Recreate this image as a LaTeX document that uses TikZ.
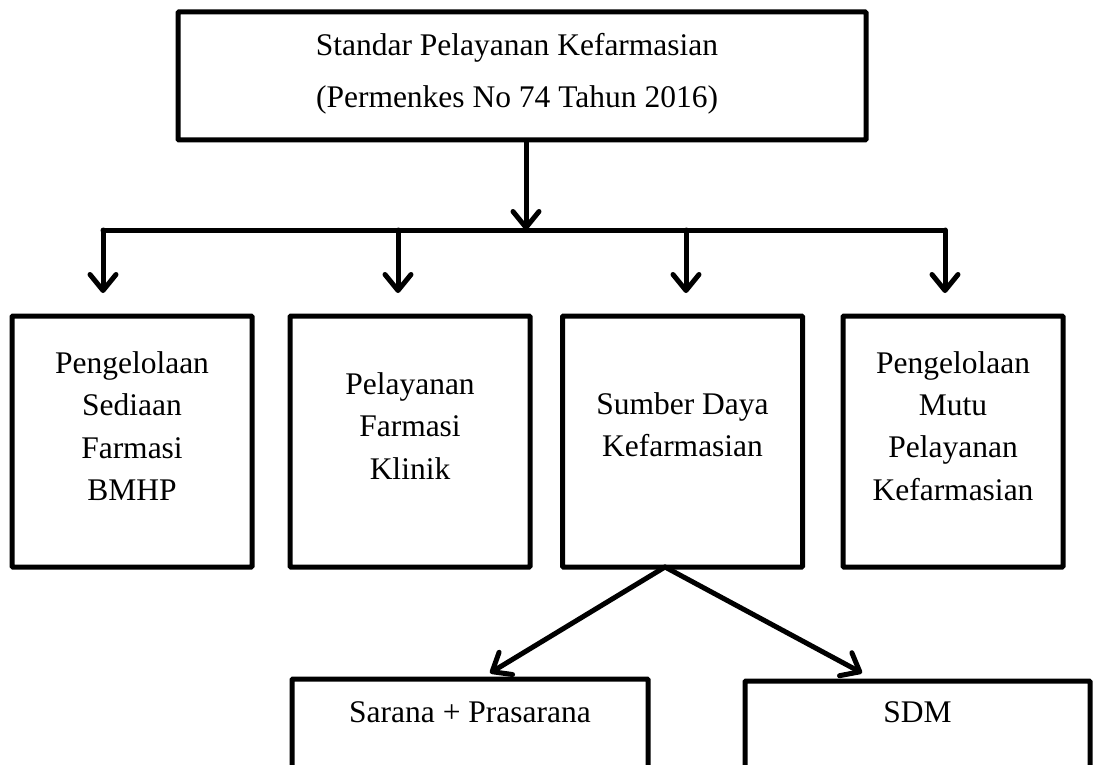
\documentclass[tikz,border=0pt]{standalone}
\usepackage{fontspec}
\setmainfont{Liberation Serif}
\usetikzlibrary{arrows.meta}
\begin{document}
\begin{tikzpicture}[x=1pt,y=-1pt,
  box/.style={draw, line width=5pt, rounded corners=1pt, inner sep=0pt},
  lbl/.style={align=center, inner sep=0pt, font=\fontsize{31.5}{42.3}\selectfont},
  conn/.style={line width=5pt, line cap=round, line join=round},
  arr/.style={conn, -{Straight Barb[length=16pt,width=26pt,line cap=round,line join=round]}}]
\useasboundingbox (0,0) rectangle (1103,765);
% boxes
\node[box, minimum width=688pt, minimum height=128pt] (top) at (522,76) {};
\node[lbl, font=\fontsize{31.5}{52}\selectfont] (toptext) at (517,74) {Standar Pelayanan Kefarmasian\\(Permenkes No 74 Tahun 2016)};
\node[box, minimum width=240pt, minimum height=251pt] (b1) at (132,441.5) {};
\node[box, minimum width=240pt, minimum height=251pt] (b2) at (410,441.5) {};
\node[box, minimum width=240pt, minimum height=251pt] (b3) at (682.5,441.5) {};
\node[box, minimum width=220pt, minimum height=251pt] (b4) at (953,441.5) {};
\node[lbl] (t1) at (132,426) {Pengelolaan\\Sediaan\\Farmasi\\BMHP};
\node[lbl] (t2) at (410,426) {Pelayanan\\Farmasi\\Klinik};
\node[lbl] (t3) at (682.5,425) {Sumber Daya\\Kefarmasian};
\node[lbl] (t4) at (953,426) {Pengelolaan\\Mutu\\Pelayanan\\Kefarmasian};
\node[box, minimum width=356pt, minimum height=112pt] (s1) at (470,735) {};
\node[box, minimum width=345pt, minimum height=110pt] (s2) at (917.5,736) {};
\node[lbl] (u1) at (470,712) {Sarana + Prasarana};
\node[lbl] (u2) at (917.5,712) {SDM};
% connectors
\coordinate (j) at (526,230);
\coordinate (hl) at (103,230);
\coordinate (hr) at (945,230);
\coordinate (j2) at (398,230);
\coordinate (j3) at (686,230);
\coordinate (a1) at (103,293);
\coordinate (a2) at (398,293);
\coordinate (a3) at (686,293);
\coordinate (a4) at (945,293);
\coordinate (d) at (665,567);
\coordinate (dl) at (490,673);
\coordinate (dr) at (862,673);
\draw[arr] (top.south -| j) -- (j);
\draw[conn] (hl) -- (hr);
\draw[arr] (hl) -- (a1);
\draw[arr] (j2) -- (a2);
\draw[arr] (j3) -- (a3);
\draw[arr] (hr) -- (a4);
\draw[arr] (d) -- (dl);
\draw[arr] (d) -- (dr);
\end{tikzpicture}
\end{document}
